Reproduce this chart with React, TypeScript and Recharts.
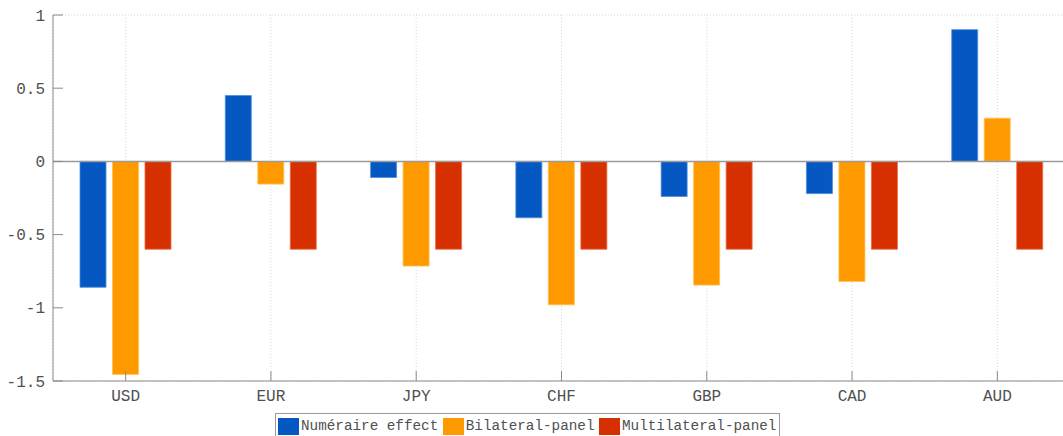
import React from 'react';
import { BarChart, Bar, XAxis, YAxis, CartesianGrid, ReferenceLine } from 'recharts';

const categories = ['USD', 'EUR', 'JPY', 'CHF', 'GBP', 'CAD', 'AUD'];
const numeraire = [-0.86, 0.45, -0.11, -0.385, -0.24, -0.22, 0.9];
const bilateral = [-1.455, -0.155, -0.715, -0.98, -0.845, -0.82, 0.295];
const multilateral = [-0.6, -0.6, -0.6, -0.6, -0.6, -0.6, -0.6];
const yTicks = [-1.5, -1, -0.5, 0, 0.5, 1];

const seriesNames = ['Numéraire effect', 'Bilateral-panel', 'Multilateral-panel'];
const seriesKeys = ['numeraire', 'bilateral', 'multilateral'];
const seriesColors = ['#0558C2', '#FF9900', '#D63000'];
const seriesEdges = ['#4d8ee0', '#ffc04d', '#f06a40'];

const data = categories.map((c, i) => ({
  name: c,
  numeraire: numeraire[i],
  bilateral: bilateral[i],
  multilateral: multilateral[i],
}));

const FONT = '"Liberation Mono", "DejaVu Sans Mono", monospace';
const AXIS = '#8a8a8a';
const TEXT = '#505050';

export default function App() {
  return (
    <div style={{ position: 'absolute', left: 0, top: 0, width: 1063, height: 436, overflow: 'hidden', background: '#fff' }}>
      <BarChart
        width={1072}
        height={436}
        data={data}
        margin={{ top: 15, right: 2, left: 0, bottom: 25 }}
        barSize={26}
        barGap={6.5}
      >
        <CartesianGrid stroke="#d8d8d8" strokeDasharray="1 2" />
        <XAxis
          dataKey="name"
          xAxisId="bottom"
          orientation="bottom"
          height={30}
          axisLine={{ stroke: AXIS }}
          tickLine={{ stroke: AXIS }}
          tickSize={-10}
          tickMargin={19}
          tick={{ fill: TEXT, fontSize: 16, fontFamily: FONT }}
        />
        <XAxis
          dataKey="name"
          xAxisId="top"
          orientation="top"
          height={0}
          axisLine={{ stroke: AXIS }}
          tickLine={{ stroke: AXIS }}
          tickSize={-10}
          tick={false}
        />
        <YAxis
          yAxisId="left"
          orientation="left"
          width={53}
          domain={[-1.5, 1]}
          ticks={yTicks}
          interval={0}
          axisLine={{ stroke: AXIS }}
          tickLine={{ stroke: AXIS }}
          tickSize={-10}
          tickMargin={18}
          tick={{ fill: TEXT, fontSize: 16, fontFamily: FONT }}
        />
        <YAxis
          yAxisId="right"
          orientation="right"
          width={0}
          domain={[-1.5, 1]}
          ticks={yTicks}
          axisLine={{ stroke: AXIS }}
          tickLine={{ stroke: AXIS }}
          tickSize={-10}
          tick={false}
        />
        {seriesKeys.map((k, i) => (
          <Bar
            key={k}
            dataKey={k}
            name={seriesNames[i]}
            xAxisId="bottom"
            yAxisId="left"
            fill={seriesColors[i]}
            stroke={seriesEdges[i]}
            strokeWidth={0.8}
            isAnimationActive={false}
          />
        ))}
        <ReferenceLine y={0} xAxisId="bottom" yAxisId="left" stroke="#9a9a9a" strokeWidth={1.5} />
      </BarChart>
      <div
        style={{
          position: 'absolute',
          left: 275,
          top: 413,
          width: 505,
          height: 30,
          border: '1px solid #9a9a9a',
          background: '#fff',
          boxSizing: 'border-box',
          display: 'flex',
          alignItems: 'flex-start',
          paddingTop: 4,
          paddingLeft: 2,
          fontFamily: FONT,
          fontSize: 14.3,
          color: TEXT,
          whiteSpace: 'nowrap',
        }}
      >
        {seriesNames.map((n, i) => (
          <div key={n} style={{ display: 'flex', alignItems: 'center', marginRight: 4.5 }}>
            <span style={{ display: 'inline-block', width: 21, height: 17, background: seriesColors[i], marginRight: 2 }} />
            <span style={{ lineHeight: '17px' }}>{n}</span>
          </div>
        ))}
      </div>
    </div>
  );
}
